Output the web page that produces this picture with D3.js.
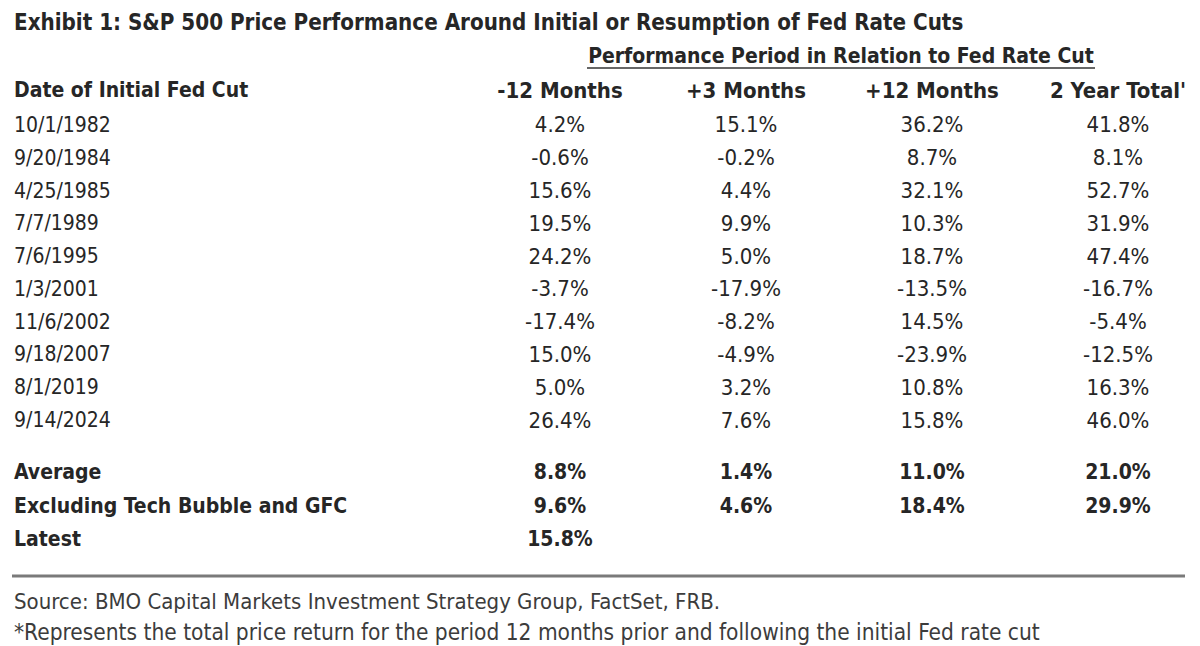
<!DOCTYPE html>
<html>
  <head>
    <meta charset="utf-8">
    <title>S&amp;P 500 Price Performance Around Fed Rate Cuts</title>
    <script src="https://cdn.jsdelivr.net/npm/d3@7"></script>
    <style type="text/css">
      body { margin: 0; background: #fff; }
      svg text { font-family: "Liberation Sans Narrow", "DejaVu Sans Condensed", "Open Sans", sans-serif; font-stretch: condensed; fill: #262626; }
    </style>
  </head>
  <body>
    <script>
    // table values
    var cutDates = ["10/1/1982", "9/20/1984", "4/25/1985", "7/7/1989", "7/6/1995",
                    "1/3/2001", "11/6/2002", "9/18/2007", "8/1/2019", "9/14/2024"];
    var columns = ["-12 Months", "+3 Months", "+12 Months", "2 Year Total'"];
    var minus12 = [4.2, -0.6, 15.6, 19.5, 24.2, -3.7, -17.4, 15.0, 5.0, 26.4];
    var plus3 = [15.1, -0.2, 4.4, 9.9, 5.0, -17.9, -8.2, -4.9, 3.2, 7.6];
    var plus12 = [36.2, 8.7, 32.1, 10.3, 18.7, -13.5, 14.5, -23.9, 10.8, 15.8];
    var twoYear = [41.8, 8.1, 52.7, 31.9, 47.4, -16.7, -5.4, -12.5, 16.3, 46.0];

    var summaryLabels = ["Average", "Excluding Tech Bubble and GFC", "Latest"];
    var summaryValues = [
      [8.8, 1.4, 11.0, 21.0],
      [9.6, 4.6, 18.4, 29.9],
      [15.8, null, null, null]
    ];

    var width = 1200, height = 646;
    var fmt = function(v) { return v.toFixed(1) + "%"; };

    var svg = d3.select("body").append("svg")
        .attr("width", width)
        .attr("height", height);

    // column centres
    var xCol = d3.scalePoint()
        .domain(columns)
        .range([560, 1118]);

    // row positions
    var yRow = d3.scaleBand()
        .domain(cutDates)
        .range([108.6, 436.4]);
    var ySum = d3.scaleBand()
        .domain(summaryLabels)
        .range([455, 556]);

    // title
    svg.append("text")
        .attr("x", 14).attr("y", 22)
        .attr("dominant-baseline", "central")
        .style("font-size", "22.2px").style("font-weight", "bold")
        .text("Exhibit 1: S&P 500 Price Performance Around Initial or Resumption of Fed Rate Cuts");

    // spanning header, underlined
    svg.append("text")
        .attr("x", 841).attr("y", 56)
        .attr("text-anchor", "middle")
        .attr("dominant-baseline", "central")
        .style("font-size", "21px").style("font-weight", "bold")
        .text("Performance Period in Relation to Fed Rate Cut");
    svg.append("line")
        .attr("x1", 587).attr("x2", 1095)
        .attr("y1", 68).attr("y2", 68)
        .attr("stroke", "#333").attr("stroke-width", 1.5);

    // column headers
    svg.append("text")
        .attr("x", 14).attr("y", 90)
        .attr("dominant-baseline", "central")
        .style("font-size", "21px").style("font-weight", "bold")
        .text("Date of Initial Fed Cut");

    svg.selectAll(".colhead")
      .data(columns)
      .enter().append("text")
        .attr("class", "colhead")
        .attr("x", function(d) { return xCol(d); })
        .attr("y", 90)
        .attr("text-anchor", "middle")
        .attr("dominant-baseline", "central")
        .style("font-size", "22px").style("font-weight", "bold")
        .text(function(d) { return d; });

    // data rows
    var series = [minus12, plus3, plus12, twoYear];
    var rows = svg.selectAll(".row")
      .data(cutDates)
      .enter().append("g")
        .attr("class", "row")
        .attr("transform", function(d) { return "translate(0," + (yRow(d) + yRow.bandwidth() / 2) + ")"; });

    rows.append("text")
        .attr("x", 14)
        .attr("dominant-baseline", "central")
        .style("font-size", "21px")
        .text(function(d) { return d; });

    rows.selectAll(".val")
      .data(function(d, i) { return series.map(function(s, j) { return {col: columns[j], v: s[i]}; }); })
      .enter().append("text")
        .attr("class", "val")
        .attr("x", function(d) { return xCol(d.col); })
        .attr("text-anchor", "middle")
        .attr("dominant-baseline", "central")
        .style("font-size", "22px")
        .text(function(d) { return fmt(d.v); });

    // summary rows (bold)
    var sums = svg.selectAll(".sum")
      .data(summaryLabels)
      .enter().append("g")
        .attr("class", "sum")
        .attr("transform", function(d) { return "translate(0," + (ySum(d) + ySum.bandwidth() / 2) + ")"; });

    sums.append("text")
        .attr("x", 14)
        .attr("dominant-baseline", "central")
        .style("font-size", "21px").style("font-weight", "bold")
        .text(function(d) { return d; });

    sums.selectAll(".sval")
      .data(function(d, i) {
        return summaryValues[i].map(function(v, j) { return {col: columns[j], v: v}; })
          .filter(function(o) { return o.v !== null; });
      })
      .enter().append("text")
        .attr("class", "sval")
        .attr("x", function(d) { return xCol(d.col); })
        .attr("text-anchor", "middle")
        .attr("dominant-baseline", "central")
        .style("font-size", "21px").style("font-weight", "bold")
        .text(function(d) { return fmt(d.v); });

    // separator rule
    svg.append("line")
        .attr("x1", 12).attr("x2", 1185)
        .attr("y1", 576).attr("y2", 576)
        .attr("stroke", "#7a7a7a").attr("stroke-width", 3);

    // notes
    svg.append("text")
        .attr("x", 14).attr("y", 601)
        .attr("dominant-baseline", "central")
        .style("font-size", "22px").style("fill", "#3c3c3c")
        .text("Source: BMO Capital Markets Investment Strategy Group, FactSet, FRB.");
    svg.append("text")
        .attr("x", 14).attr("y", 632)
        .attr("dominant-baseline", "central")
        .style("font-size", "22.5px").style("fill", "#3c3c3c")
        .text("*Represents the total price return for the period 12 months prior and following the initial Fed rate cut");
    </script>
  </body>
</html>
